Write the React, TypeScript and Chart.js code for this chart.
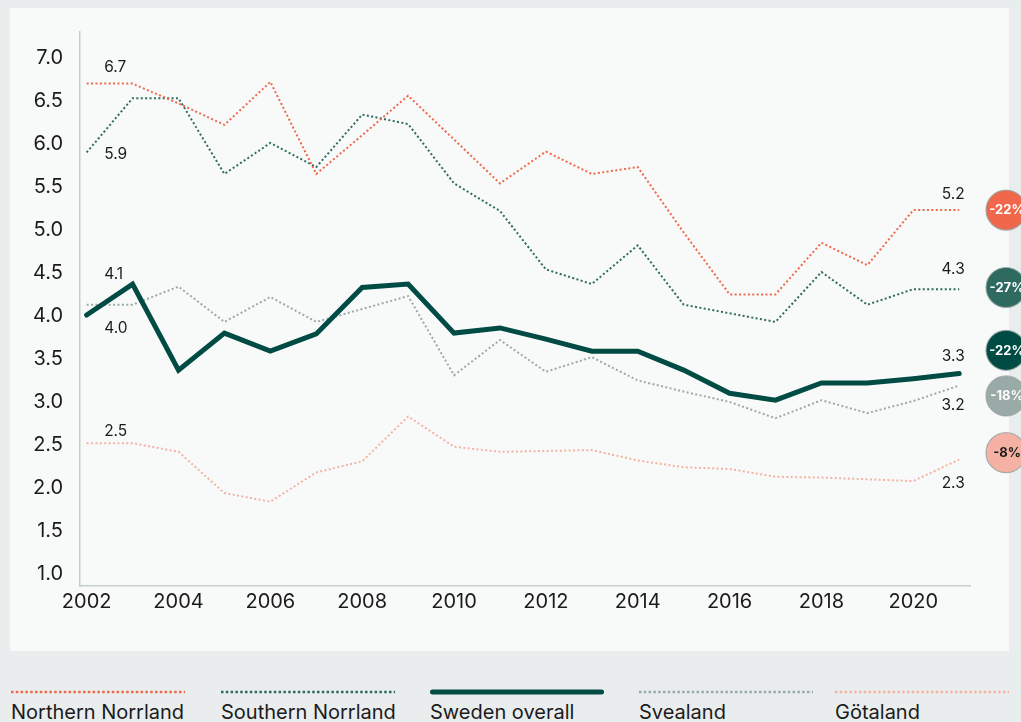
import React, { useEffect, useRef } from 'react';
import { Chart, registerables } from 'chart.js';

Chart.register(...registerables);

// ---------- data ----------
const YEARS = [2002, 2003, 2004, 2005, 2006, 2007, 2008, 2009, 2010, 2011, 2012, 2013, 2014, 2015, 2016, 2017, 2018, 2019, 2020, 2021];
const NORTHERN_NORRLAND = [6.7, 6.7, 6.47, 6.22, 6.72, 5.65, 6.1, 6.56, 6.05, 5.54, 5.91, 5.65, 5.73, 4.97, 4.25, 4.25, 4.85, 4.59, 5.23, 5.23];
const SOUTHERN_NORRLAND = [5.9, 6.53, 6.53, 5.65, 6.01, 5.73, 6.34, 6.23, 5.54, 5.22, 4.54, 4.37, 4.82, 4.13, 4.03, 3.93, 4.51, 4.13, 4.31, 4.31];
const SWEDEN_OVERALL = [4.01, 4.37, 3.37, 3.8, 3.59, 3.79, 4.33, 4.37, 3.8, 3.86, 3.73, 3.59, 3.59, 3.37, 3.1, 3.02, 3.22, 3.22, 3.27, 3.33];
const SVEALAND = [4.13, 4.13, 4.34, 3.93, 4.22, 3.93, 4.08, 4.23, 3.31, 3.72, 3.35, 3.52, 3.25, 3.12, 3.0, 2.81, 3.02, 2.87, 3.01, 3.19];
const GOTALAND = [2.52, 2.52, 2.42, 1.94, 1.84, 2.18, 2.31, 2.83, 2.48, 2.42, 2.43, 2.44, 2.32, 2.24, 2.22, 2.13, 2.12, 2.1, 2.08, 2.33];
const SERIES_NAMES = ['Northern Norrland', 'Southern Norrland', 'Sweden overall', 'Svealand', 'Götaland'];
const CHANGE_LABELS = ['-22%', '-27%', '-22%', '-18%', '-8%'];
const Y_TICKS = [1.0, 1.5, 2.0, 2.5, 3.0, 3.5, 4.0, 4.5, 5.0, 5.5, 6.0, 6.5, 7.0];
const X_TICKS = [2002, 2004, 2006, 2008, 2010, 2012, 2014, 2016, 2018, 2020];

// ---------- styling / layout ----------
const FONT = 'Inter, "Noto Sans", sans-serif';
const TEXT = '#1b1b1b';
const COLORS = ['#f0674b', '#2f6a61', '#004b43', '#9aaaa6', '#f5b2a4'];
const DASHED = [true, true, false, true, true];
const WIDTHS = [2, 2, 5, 2, 2];
const BADGE_TEXT = ['#ffffff', '#ffffff', '#ffffff', '#ffffff', '#1b1b1b'];
// label offsets (px) relative to first / last point
const START_DY = [-16.5, 1.5, 13, -30, -12];
const END_DY = [-16, -20, -17, 20, 24];
// badge vertical levels (in value units) to avoid overlaps
const BADGE_LEVEL = [5.23, 4.33, 3.6, 3.07, 2.41];
const LEGEND_LEFT = [11, 221, 430, 639, 835];

const SERIES = [NORTHERN_NORRLAND, SOUTHERN_NORRLAND, SWEDEN_OVERALL, SVEALAND, GOTALAND];

const annotationPlugin = {
  id: 'endLabels',
  afterDatasetsDraw(chart: any) {
    const ctx = chart.ctx;
    const xs = chart.scales.x;
    const ys = chart.scales.y;
    ctx.save();
    ctx.font = `15.5px ${FONT}`;
    ctx.fillStyle = TEXT;
    ctx.textBaseline = 'middle';
    SERIES.forEach((vals, i) => {
      const first = vals[0];
      const last = vals[vals.length - 1];
      const x0 = xs.getPixelForValue(YEARS[0]);
      const y0 = ys.getPixelForValue(first);
      ctx.textAlign = 'left';
      ctx.fillText(first.toFixed(1), x0 + 17.5, y0 + START_DY[i]);
      const x1 = xs.getPixelForValue(YEARS[YEARS.length - 1]);
      const y1 = ys.getPixelForValue(last);
      ctx.textAlign = 'right';
      ctx.fillText(last.toFixed(1), x1 + 5.5, y1 + END_DY[i]);
    });
    // badges
    const bx = 1006;
    CHANGE_LABELS.forEach((t, i) => {
      const by = ys.getPixelForValue(BADGE_LEVEL[i]);
      ctx.beginPath();
      ctx.arc(bx, by, 20, 0, Math.PI * 2);
      ctx.fillStyle = COLORS[i];
      ctx.fill();
      ctx.lineWidth = 1.2;
      ctx.strokeStyle = 'rgba(150,162,160,0.8)';
      ctx.stroke();
      ctx.fillStyle = BADGE_TEXT[i];
      ctx.font = `bold 13px ${FONT}`;
      ctx.textAlign = 'center';
      ctx.fillText(t, bx + 1, by + 0.5);
    });
    ctx.restore();
  },
};

export default function App() {
  const ref = useRef<HTMLCanvasElement | null>(null);

  useEffect(() => {
    document.body.style.margin = '0';
    document.body.style.background = '#eaedee';
    const canvas = ref.current;
    if (!canvas) return;
    const chart = new Chart(canvas, {
      type: 'line',
      data: {
        datasets: SERIES.map((vals, i) => ({
          label: SERIES_NAMES[i],
          data: vals.map((v, k) => ({ x: YEARS[k], y: v })),
          borderColor: COLORS[i],
          borderWidth: WIDTHS[i],
          borderDash: DASHED[i] ? [2, 2.4] : [],
          borderCapStyle: DASHED[i] ? 'butt' : 'round',
          borderJoinStyle: 'miter',
          pointRadius: 0,
          tension: 0,
          fill: false,
          order: i === 2 ? 0 : 1,
        })),
      },
      options: {
        animation: false,
        responsive: false,
        devicePixelRatio: 1,
        layout: { padding: { left: 0, right: 51, top: 32, bottom: 0 } },
        plugins: { legend: { display: false }, tooltip: { enabled: false } },
        scales: {
          x: {
            type: 'linear',
            min: 2001.855,
            max: 2021.235,
            grid: { display: false, drawTicks: false },
            border: { display: true, color: '#c3cdcb', width: 1.5 },
            afterFit: (s: any) => { s.height = 64; },
            afterBuildTicks: (s: any) => { s.ticks = X_TICKS.map((v) => ({ value: v })); },
            ticks: {
              padding: 4,
              color: TEXT,
              font: { family: FONT, size: 20 },
              callback: (v: any) => String(v),
              maxRotation: 0,
              autoSkip: false,
            },
          },
          y: {
            type: 'linear',
            min: 0.86,
            max: 7.3,
            grid: { display: false, drawTicks: false },
            border: { display: true, color: '#c3cdcb', width: 1.5 },
            afterFit: (s: any) => { s.width = 80; },
            afterBuildTicks: (s: any) => { s.ticks = Y_TICKS.map((v) => ({ value: v })); },
            ticks: {
              padding: 17,
              color: TEXT,
              font: { family: FONT, size: 20 },
              callback: (v: any) => Number(v).toFixed(1),
              autoSkip: false,
            },
          },
        },
      },
      plugins: [annotationPlugin],
    } as any);
    return () => chart.destroy();
  }, []);

  return (
    <div style={{ position: 'relative', width: 1021, height: 722, background: '#eaedee', overflow: 'hidden', fontFamily: FONT }}>
      <div style={{ position: 'absolute', left: 10, top: 8, width: 999, height: 643, background: '#f8faf9' }} />
      <canvas ref={ref} width={1021} height={650} style={{ position: 'absolute', left: 0, top: 0, width: 1021, height: 650 }} />
      {SERIES_NAMES.map((name, i) => (
        <div key={name} style={{ position: 'absolute', left: LEGEND_LEFT[i], top: 686 }}>
          <svg width={176} height={12} style={{ display: 'block' }}>
            <line
              x1={DASHED[i] ? 0 : 2.5}
              y1={6}
              x2={DASHED[i] ? 174 : 171.5}
              y2={6}
              stroke={COLORS[i]}
              strokeWidth={DASHED[i] ? 2.5 : 5}
              strokeDasharray={DASHED[i] ? '2.5 2.3' : undefined}
              strokeLinecap={DASHED[i] ? 'butt' : 'round'}
            />
          </svg>
          <div style={{ marginTop: 4, fontSize: 20, lineHeight: '20px', color: TEXT, whiteSpace: 'nowrap' }}>{name}</div>
        </div>
      ))}
    </div>
  );
}
